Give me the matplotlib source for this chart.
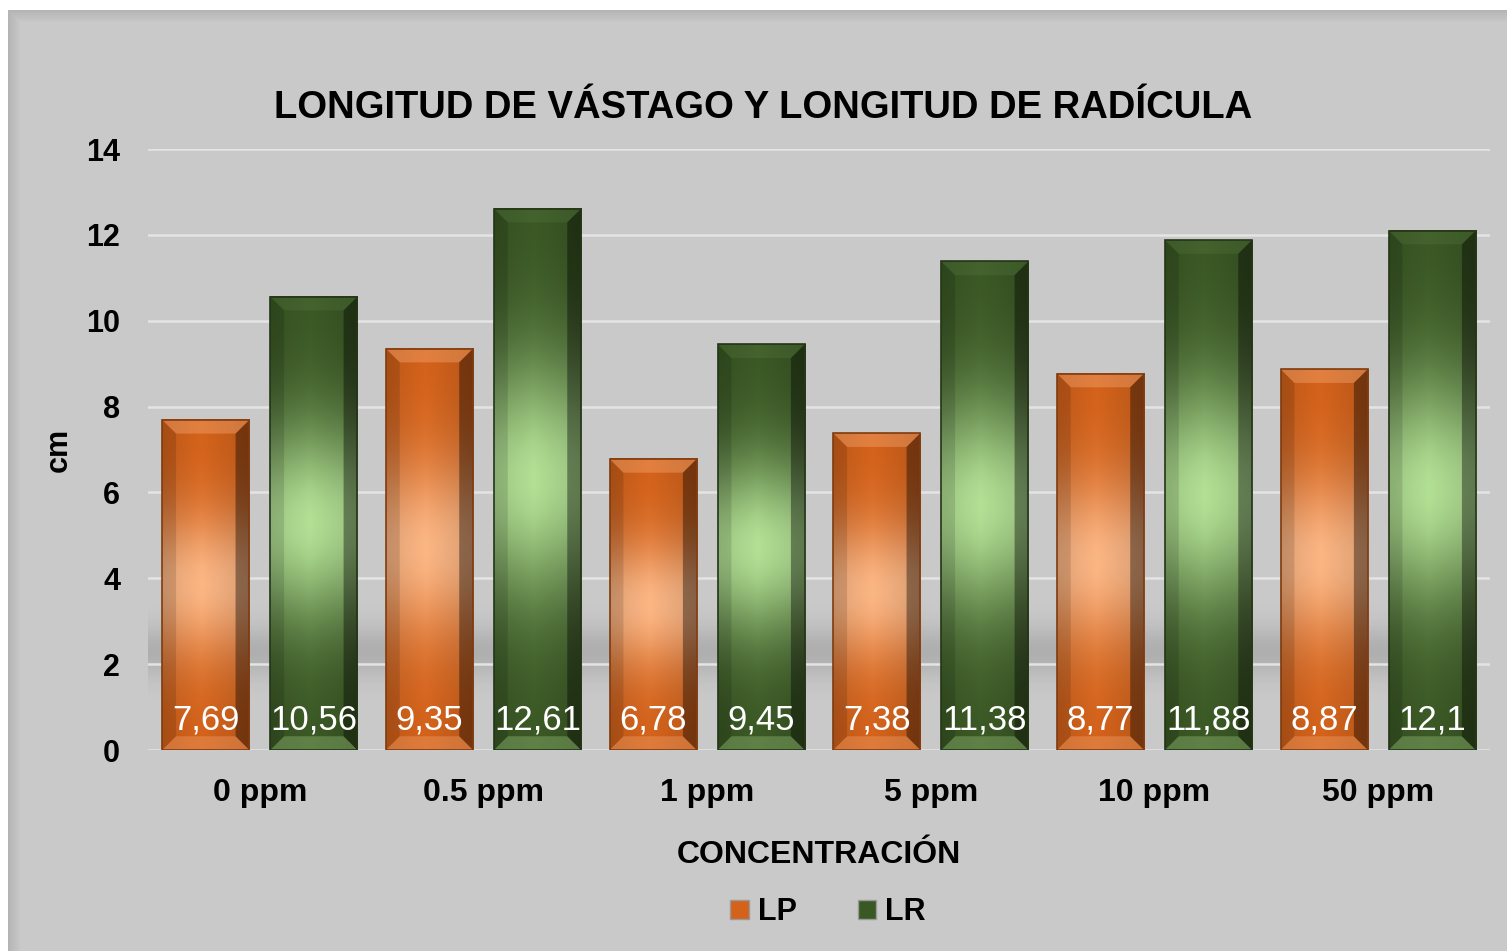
import numpy as np
import matplotlib
matplotlib.use("Agg")
import matplotlib.pyplot as plt
from matplotlib.patches import Rectangle, Polygon

plt.rcParams["font.family"] = ["Liberation Sans", "DejaVu Sans"]

# data
categories = ["0 ppm", "0.5 ppm", "1 ppm", "5 ppm", "10 ppm", "50 ppm"]
lp = [7.69, 9.35, 6.78, 7.38, 8.77, 8.87]
lr = [10.56, 12.61, 9.45, 11.38, 11.88, 12.10]
series_names = ["LP", "LR"]
title = "LONGITUD DE VÁSTAGO Y LONGITUD DE RADÍCULA"

BG = "#c9c9c9"
ORANGE_DARK = np.array([212, 98, 26]) / 255
ORANGE_LIGHT = np.array([252, 182, 132]) / 255
GREEN_DARK = np.array([58, 88, 36]) / 255
GREEN_LIGHT = np.array([178, 224, 148]) / 255


def gradient_image(dark, light, n=200):
    # vertical profile: dark at bottom and top, light near the middle
    t = np.linspace(0, 1, n)[:, None]  # 0 = bottom, 1 = top
    w = np.exp(-((t - 0.5) / 0.22) ** 2)
    col = dark[None, :] * (1 - w) + light[None, :] * w
    # slight horizontal shading
    xs = np.linspace(0, 1, 60)[None, :]
    hshade = 1 - 0.12 * np.abs(xs - 0.45) * 2
    img = col[:, None, :] * hshade[:, :, None]
    return np.clip(img, 0, 1)


def draw_bar(ax, xc, width, h, dark, light, top_alpha):
    x0, x1 = xc - width / 2, xc + width / 2
    ax.imshow(gradient_image(dark, light), extent=(x0, x1, 0, h),
              origin="lower", aspect="auto", zorder=3, interpolation="bilinear")
    bx = 0.062
    by = 0.32
    # bevel faces
    top = Polygon([(x0, h), (x1, h), (x1 - bx, h - by), (x0 + bx, h - by)],
                  closed=True, facecolor=light, alpha=top_alpha, lw=0, zorder=4)
    bottom = Polygon([(x0, 0), (x1, 0), (x1 - bx, by), (x0 + bx, by)],
                     closed=True, facecolor=light, alpha=0.30, lw=0, zorder=4)
    left = Polygon([(x0, 0), (x0 + bx, by), (x0 + bx, h - by), (x0, h)],
                   closed=True, facecolor="black", alpha=0.12, lw=0, zorder=4)
    right = Polygon([(x1, 0), (x1 - bx, by), (x1 - bx, h - by), (x1, h)],
                    closed=True, facecolor="black", alpha=0.38, lw=0, zorder=4)
    for p in (top, bottom, left, right):
        ax.add_patch(p)
    ax.add_patch(Rectangle((x0, 0), width, h, fill=False,
                           edgecolor=dark * 0.6, lw=1.2, zorder=5))


fig = plt.figure(figsize=(15.07, 9.51), dpi=100, facecolor="white")

# chart frame with inner shadow on left/top
fl, ft = 8 / 1507, 1 - 10 / 951
frame = Rectangle((fl, 0), 1 - fl, ft, transform=fig.transFigure,
                  facecolor=BG, edgecolor="none", zorder=0)
fig.patches.append(frame)
for i in range(12):
    a = 0.10 * (1 - i / 12)
    fig.patches.append(Rectangle((fl + i / 1507, 0), 1 / 1507, ft - i / 951,
                                 transform=fig.transFigure, facecolor="black",
                                 alpha=a, edgecolor="none", zorder=0.1))
    fig.patches.append(Rectangle((fl + (i + 1) / 1507, ft - (i + 1) / 951),
                                 1 - fl - (i + 1) / 1507, 1 / 951,
                                 transform=fig.transFigure, facecolor="black",
                                 alpha=a, edgecolor="none", zorder=0.1))

ax = fig.add_axes([148 / 1507, 1 - 750 / 951, 1342 / 1507, 601 / 951])
ax.set_zorder(5)
ax.set_facecolor("none")
for s in ax.spines.values():
    s.set_visible(False)

width = 0.39
off = 0.2415
x = np.arange(len(categories))

# floor shadow band
yy = np.linspace(0.4, 3.8, 150)
alpha = 0.13 * np.exp(-((yy - 2.3) / 0.6) ** 2)
shadow = np.zeros((150, 2, 4))
shadow[..., 3] = alpha[:, None]
ax.imshow(shadow, extent=(-0.5, x[-1] + off + width / 2, 0.4, 3.8),
          origin="lower", aspect="auto", zorder=0.1, interpolation="bilinear")

for yv in range(0, 15, 2):
    ax.axhline(yv, color="#e4e4e4", lw=1.8, zorder=1)

for i in range(len(categories)):
    draw_bar(ax, x[i] - off, width, lp[i], ORANGE_DARK, ORANGE_LIGHT, 0.35)
    draw_bar(ax, x[i] + off, width, lr[i], GREEN_DARK, GREEN_LIGHT, 0.08)
    for xc, v in ((x[i] - off, lp[i]), (x[i] + off, lr[i])):
        ax.text(xc, 0.70, ("%g" % v).replace(".", ","), ha="center",
                va="center", color="white", fontsize=25, zorder=6)

ax.set_xlim(-0.5, len(categories) - 0.5)
ax.set_ylim(0, 14)
ax.set_xticks(x)
ax.set_xticklabels(categories, fontsize=23, fontweight="bold")
ax.set_yticks(range(0, 15, 2))
ax.tick_params(axis="y", labelsize=22, length=0, pad=20)
ax.tick_params(axis="x", length=0, pad=20)
for t in ax.get_yticklabels():
    t.set_fontweight("bold")

ax.set_ylabel("cm", fontsize=22, fontweight="bold", labelpad=9)
ax.set_xlabel("CONCENTRACIÓN", fontsize=23, fontweight="bold", labelpad=23)
fig.text(763 / 1507, 1 - 108 / 951, title, ha="center", va="center",
         fontsize=27.5, fontweight="bold")

handles = [Rectangle((0, 0), 1, 1, facecolor=ORANGE_DARK, edgecolor="#999999"),
           Rectangle((0, 0), 1, 1, facecolor=GREEN_DARK, edgecolor="#999999")]
leg = fig.legend(handles, series_names, loc="center",
                 bbox_to_anchor=(828 / 1507, 1 - 912 / 951), ncol=2,
                 frameon=False, handlelength=0.6, handleheight=0.6,
                 handletextpad=0.3, columnspacing=2.0,
                 prop={"size": 22, "weight": "bold"})

fig.savefig("out.png", dpi=100, facecolor="white")
